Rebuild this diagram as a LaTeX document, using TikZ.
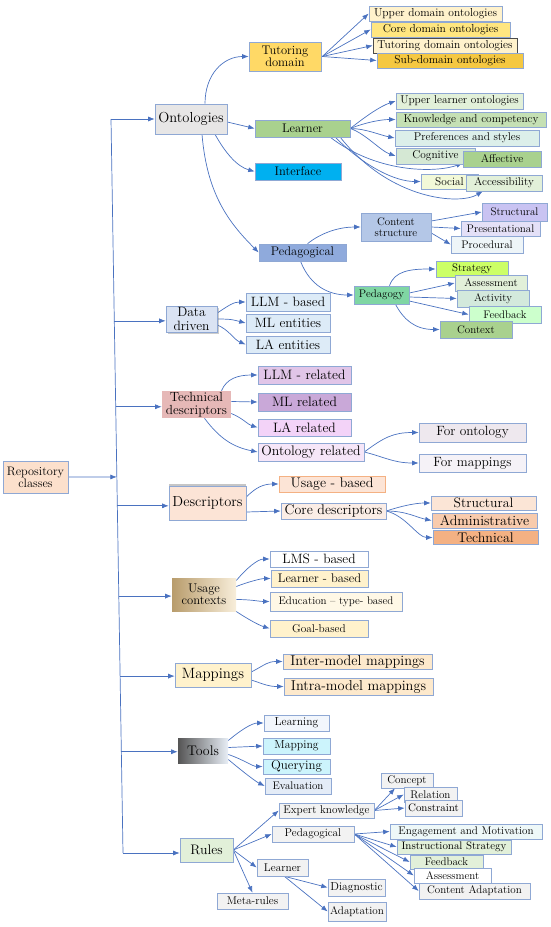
\documentclass[tikz,border=0pt]{standalone}
\usetikzlibrary{arrows.meta,calc,shadows}
\definecolor{arrc}{HTML}{4A72C0}
\definecolor{bordc}{HTML}{8FA8D4}
\definecolor{cTut}{HTML}{FFD966}
\definecolor{cUdo}{HTML}{FFF2CC}
\definecolor{cCdo}{HTML}{FFE680}
\definecolor{cTdo}{HTML}{FFF2CC}
\definecolor{cSdo}{HTML}{F5C842}
\definecolor{cOnt}{HTML}{E7E6E6}
\definecolor{cLrn}{HTML}{A9D18E}
\definecolor{cInt}{HTML}{00B0F0}
\definecolor{cUlo}{HTML}{E2F0D9}
\definecolor{cKac}{HTML}{C5E0B4}
\definecolor{cPas}{HTML}{DCEFEA}
\definecolor{cCog}{HTML}{D5E8D4}
\definecolor{cSoc}{HTML}{F2F9D8}
\definecolor{cPed}{HTML}{8FAADC}
\definecolor{cCst}{HTML}{B4C7E7}
\definecolor{cStr}{HTML}{C9C3F2}
\definecolor{cPre}{HTML}{E4E0F7}
\definecolor{cPrc}{HTML}{EEF5F8}
\definecolor{cPdg}{HTML}{7FD6A3}
\definecolor{cStg}{HTML}{CCFF66}
\definecolor{cAct}{HTML}{D3E9DC}
\definecolor{cFdb}{HTML}{CCFFCC}
\definecolor{cDd}{HTML}{DAE3F3}
\definecolor{cLb}{HTML}{DDEBF7}
\definecolor{cTds}{HTML}{E6B8B7}
\definecolor{cLlr}{HTML}{E1C5E8}
\definecolor{cMlr}{HTML}{C9A8D8}
\definecolor{cLar}{HTML}{F3D3F8}
\definecolor{cOnr}{HTML}{F6E6F8}
\definecolor{cFon}{HTML}{EEE8EE}
\definecolor{cFmp}{HTML}{F5F2F7}
\definecolor{cRepo}{HTML}{FCE0CC}
\definecolor{cPeach}{HTML}{FCE4D6}
\definecolor{cCore}{HTML}{FBEDE6}
\definecolor{cStl}{HTML}{FBE5D6}
\definecolor{cAdm}{HTML}{F8CBAD}
\definecolor{cTec}{HTML}{F4B183}
\definecolor{cUscL}{HTML}{B89C6C}
\definecolor{cUscR}{HTML}{F8EEDA}
\definecolor{cYel}{HTML}{FFF2CC}
\definecolor{cEdu}{HTML}{FFF8E6}
\definecolor{cInm}{HTML}{FDE9CC}
\definecolor{cToolL}{HTML}{555555}
\definecolor{cToolR}{HTML}{E8EEF6}
\definecolor{cLrng}{HTML}{F2F6FC}
\definecolor{cMpg}{HTML}{CCF4FC}
\definecolor{cEvl}{HTML}{E4ECF7}
\definecolor{cGray}{HTML}{F2F2F2}
\definecolor{cEng}{HTML}{EEF8F8}
\definecolor{cUsb}{HTML}{F4B183}
\pgfdeclarelayer{bg}
\pgfsetlayers{bg,main}
\tikzset{
  box/.style={draw=bordc, line width=0.6pt, inner sep=0pt, align=center, text=black},
  fz/.style={font=\fontsize{#1}{#1}\selectfont},
  fzz/.style 2 args={font=\fontsize{#1}{#2}\selectfont},
  arr/.style={draw=arrc, line width=0.7pt, -{Latex[length=6.5pt,width=5pt]}},
  ln/.style={draw=arrc, line width=0.7pt},
}
\begin{document}
\begin{tikzpicture}[x=1pt,y=-1pt]
\useasboundingbox (0,0) rectangle (550,927);
% ---------- Ontologies ----------
\node[box, fill=cOnt, minimum width=72, minimum height=30, fz=14.5] (ont) at (191,119) {Ontologies};
\node[box, fill=cTut, minimum width=72, minimum height=29, fzz={12.5}{12}] (tut) at (285,56.5) {Tutoring\\domain};
\node[box, fill=cUdo, minimum width=133, minimum height=15, fz=11.5] (udo) at (435.5,13.5) {Upper domain ontologies};
\node[box, fill=cCdo, minimum width=139, minimum height=15, fz=11.5] (cdo) at (440.5,29.5) {Core domain ontologies};
\node[box, draw=black!70, fill=cTdo, minimum width=144, minimum height=15, fz=11.5] (tdo) at (445,45.5) {Tutoring domain ontologies};
\node[box, fill=cSdo, minimum width=146, minimum height=15, fz=11.5] (sdo) at (450,60.5) {Sub-domain ontologies};
\node[box, fill=cLrn, minimum width=95, minimum height=17, fz=12.5] (lrn) at (302.5,128.5) {Learner};
\node[box, fill=cInt, minimum width=86, minimum height=17, fz=12.5] (intf) at (298,171.5) {Interface};
\node[box, fill=cUlo, minimum width=127, minimum height=16, fz=11.3] (ulo) at (459.5,101) {Upper learner ontologies};
\node[box, fill=cKac, minimum width=150, minimum height=15, fz=11.3] (kac) at (471,119.5) {Knowledge and competency};
\node[box, fill=cPas, minimum width=144, minimum height=16, fz=11.3] (pas) at (467,138) {Preferences and styles};
\node[box, fill=cCog, minimum width=79, minimum height=16, fz=11.3] (cog) at (435.5,156) {Cognitive};
\node[box, fill=cLrn, minimum width=78, minimum height=16, fz=11.3] (aff) at (502,159) {Affective};
\node[box, fill=cSoc, minimum width=57, minimum height=15, fz=11.3] (soc) at (449.5,181.5) {Social};
\node[box, fill=cUlo, minimum width=76, minimum height=16, fz=11.3] (acc) at (504,183) {Accessibility};
\node[box, fill=cPed, minimum width=87, minimum height=17, fz=12.5] (ped) at (302.5,252.5) {Pedagogical};
\node[box, fill=cCst, minimum width=70, minimum height=28, fzz={11}{11}] (cst) at (396,227) {Content\\structure};
\node[box, fill=cStr, minimum width=65, minimum height=18, fz=11] (str) at (514.5,212) {Structural};
\node[box, fill=cPre, minimum width=79, minimum height=15, fz=11] (pre) at (500.5,228.5) {Presentational};
\node[box, fill=cPrc, minimum width=72, minimum height=17, fz=11] (prc) at (487,244.5) {Procedural};
\node[box, fill=cPdg, minimum width=55, minimum height=18, fz=11] (pdg) at (381.5,295) {Pedagogy};
\node[box, fill=cStg, minimum width=72, minimum height=16, fz=11] (stg) at (472,269) {Strategy};
\node[box, fill=cUlo, minimum width=72, minimum height=16, fz=11] (ass) at (491,283) {Assessment};
\node[box, fill=cAct, minimum width=72, minimum height=17, fz=11] (act) at (493,298.5) {Activity};
\node[box, fill=cFdb, minimum width=72, minimum height=17, fz=11] (fdb) at (505,314.5) {Feedback};
\node[box, fill=cLrn, minimum width=72, minimum height=17, fz=11] (ctx) at (476,329.5) {Context};
% ---------- Data driven ----------
\node[box, fill=cDd, minimum width=51, minimum height=26, fzz={13.5}{13.5}, drop shadow={shadow xshift=2pt, shadow yshift=-2pt, opacity=0.4}] (dd) at (191.5,319) {Data\\driven};
\node[box, fill=cLb, minimum width=84, minimum height=18, fz=13.5] (llmb) at (288,302) {LLM - based};
\node[box, fill=cLb, minimum width=84, minimum height=18, fz=13.5] (mle) at (288,323) {ML entities};
\node[box, fill=cLb, minimum width=84, minimum height=17, fz=13.5] (lae) at (288,344.5) {LA entities};
% ---------- Technical descriptors ----------
\node[box, draw=none, fill=cTds, minimum width=69, minimum height=27, fzz={13.2}{13.2}] (tds) at (196.5,404.5) {Technical\\descriptors};
\node[box, fill=cLlr, minimum width=93, minimum height=18, fz=13.6] (llmr) at (304.5,375) {LLM - related};
\node[box, fill=cMlr, minimum width=93, minimum height=18, fz=13.6] (mlr) at (304.5,402) {ML related};
\node[box, fill=cLar, minimum width=93, minimum height=17, fz=13.6] (lar) at (304.5,427.5) {LA related};
\node[box, fill=cOnr, minimum width=106, minimum height=18, fz=13.8] (ontr) at (311,452) {Ontology related};
\node[box, fill=cFon, minimum width=107, minimum height=19, fz=13.4] (fon) at (472.5,432.5) {For ontology};
\node[box, fill=cFmp, minimum width=107, minimum height=18, fz=13.4] (fmap) at (472.5,463) {For mappings};
% ---------- Repository ----------
\node[box, fill=cRepo, minimum width=65, minimum height=32, fzz={12.3}{12}] (repo) at (35.5,477) {Repository\\classes};
% ---------- Descriptors ----------
\node[box, fill=cPeach, minimum width=77, minimum height=34, fz=14.5, drop shadow={shadow xshift=0pt, shadow yshift=2pt, opacity=0.45}] (desc) at (207.5,503) {Descriptors};
\node[box, draw=cUsb, fill=cPeach, minimum width=106, minimum height=16, fz=14] (usb) at (332,484) {Usage - based};
\node[box, fill=cCore, minimum width=105, minimum height=16, fz=14] (cored) at (333.5,511) {Core descriptors};
\node[box, fill=cStl, minimum width=105, minimum height=14, fz=13.7] (stl2) at (483.5,503) {Structural};
\node[box, fill=cAdm, minimum width=105, minimum height=15, fz=14] (adm) at (484.5,520.5) {Administrative};
\node[box, fill=cTec, minimum width=105, minimum height=14, fz=14] (tec) at (485.5,537.5) {Technical};
% ---------- Usage contexts ----------
\node[box, draw=none, left color=cUscL, right color=cUscR, minimum width=64, minimum height=33, fzz={12.6}{12.2}] (usc) at (204,594.5) {Usage\\contexts};
\node[box, fill=white, minimum width=98, minimum height=16, fz=13.5] (lms) at (319,559) {LMS - based};
\node[box, fill=cYel, minimum width=97, minimum height=17, fz=12.5] (lrb) at (319.5,578.5) {Learner - based};
\node[box, fill=cEdu, minimum width=132, minimum height=19, fz=11] (edu) at (336,601.5) {Education -- type- based};
\node[box, fill=cYel, minimum width=98, minimum height=17, fz=11.3] (gol) at (319,628.5) {Goal-based};
% ---------- Mappings ----------
\node[box, fill=cYel, minimum width=76, minimum height=24, fz=14.9] (map) at (213,675) {Mappings};
\node[box, fill=cInm, minimum width=149, minimum height=15, fz=14.3] (inter) at (357.5,661.5) {Inter-model mappings};
\node[box, fill=cInm, minimum width=149, minimum height=17, fz=14.3] (intra) at (358.5,686.5) {Intra-model mappings};
% ---------- Tools ----------
\node[box, draw=none, left color=cToolL, right color=cToolR, minimum width=50, minimum height=25, fz=13.9] (tools) at (203,750.5) {Tools};
\node[box, fill=cLrng, minimum width=65, minimum height=16, fz=11.6] (lrng) at (296.5,723) {Learning};
\node[box, fill=cMpg, minimum width=67, minimum height=16, fz=11.7] (mpg) at (296.5,746) {Mapping};
\node[box, fill=cMpg, minimum width=67, minimum height=15, fz=12.9] (qry) at (296.5,766.5) {Querying};
\node[box, fill=cEvl, minimum width=66, minimum height=16, fz=11] (evl) at (298,786) {Evaluation};
% ---------- Rules ----------
\node[box, fill=cUlo, minimum width=53, minimum height=24, fz=13.8] (rules) at (206.5,850) {Rules};
\node[box, fill=cGray, minimum width=95, minimum height=15, fz=11.2] (exk) at (326.5,810.5) {Expert knowledge};
\node[box, fill=cGray, minimum width=82, minimum height=16, fz=11.2] (ped2) at (313,834) {Pedagogical};
\node[box, fill=cGray, minimum width=51, minimum height=17, fz=11.3] (lrn2) at (282.5,867.5) {Learner};
\node[box, fill=cGray, minimum width=71, minimum height=16, fz=11.3] (meta) at (252.5,901) {Meta-rules};
\node[box, fill=cGray, minimum width=52, minimum height=15, fz=11.1] (cpt) at (407,780.5) {Concept};
\node[box, fill=cGray, minimum width=53, minimum height=15, fz=11.1] (rel) at (430.5,794.5) {Relation};
\node[box, fill=cGray, minimum width=57, minimum height=16, fz=10.9] (cns) at (433.5,808) {Constraint};
\node[box, fill=cEng, minimum width=152, minimum height=15, fz=11.1] (eng) at (466,831.5) {Engagement and Motivation};
\node[box, fill=cUlo, minimum width=114, minimum height=14, fz=10.9] (ins) at (454,847) {Instructional Strategy};
\node[box, fill=cUlo, minimum width=73, minimum height=14, fz=11] (fdb2) at (446.5,862) {Feedback};
\node[box, fill=white, minimum width=77, minimum height=15, fz=11] (ass2) at (452.5,875.5) {Assessment};
\node[box, fill=cGray, minimum width=111, minimum height=16, fz=11] (cad) at (474.5,891) {Content Adaptation};
\node[box, fill=cGray, minimum width=57, minimum height=17, fz=11.6] (dia) at (356.5,887.5) {Diagnostic};
\node[box, fill=cGray, minimum width=58, minimum height=19, fz=11.1] (adp) at (357,911.5) {Adaptation};
% ---------- trunk coordinates ----------
\coordinate (tA) at (111,119);
\coordinate (tB) at (123,853);
\coordinate (tDd) at ($(tA)!0.275!(tB)$);
\coordinate (tTd) at ($(tA)!0.392!(tB)$);
\coordinate (tRp) at ($(tA)!0.4877!(tB)$);
\coordinate (tDe) at ($(tA)!0.527!(tB)$);
\coordinate (tUc) at ($(tA)!0.65!(tB)$);
\coordinate (tMp) at ($(tA)!0.759!(tB)$);
\coordinate (tTo) at ($(tA)!0.862!(tB)$);
\begin{pgfonlayer}{bg}
% trunk
\draw[ln] (tA) -- (tB);
\draw[arr] (tA) -- (tA -| ont.west);
\draw[arr] (tDd) -- (tDd -| dd.west);
\draw[arr] (tTd) -- (tTd -| tds.west);
\draw[arr] (repo.east) -- (tRp);
\draw[arr] (tDe) -- (tDe -| desc.west);
\draw[arr] (tUc) -- (tUc -| usc.west);
\draw[arr] (tMp) -- (tMp -| map.west);
\draw[arr] (tTo) -- (tTo -| tools.west);
\draw[arr] (tB) -- (tB -| rules.west);
% ontologies
\draw[arr] ($(ont.north)+(14,0)$) .. controls +(0,-30) and +(-25,0) .. (tut.west);
\draw[arr] ($(ont.east)+(0,3)$) -- (lrn.west);
\draw[arr] ($(ont.south)+(24,0)$) .. controls +(10,18) and +(-18,-5) .. (intf.west);
\draw[arr] ($(ont.south)+(11,0)$) .. controls +(5,60) and +(-30,-30) .. (ped.west);
% tutoring domain
\foreach \t in {udo,cdo,tdo,sdo} \draw[arr] ($(tut.east)+(1,0)$) -- (\t.west);
% learner
\draw[arr] (lrn.east) .. controls +(15,-12) and +(-15,5) .. (ulo.west);
\draw[arr] (lrn.east) .. controls +(15,-6) and +(-15,0) .. (kac.west);
\draw[arr] (lrn.east) .. controls +(15,0) and +(-15,-3) .. (pas.west);
\draw[arr] (lrn.east) .. controls +(15,5) and +(-15,-5) .. (cog.west);
\draw[arr] ($(lrn.south east)+(-20,0)$) .. controls +(50,38) and +(-23,9) .. ($(aff.west)+(0,4)$);
\draw[arr] ($(lrn.south east)+(-15,0)$) .. controls +(30,30) and +(-25,0) .. (soc.west);
\draw[arr] ($(lrn.south east)+(-10,0)$) .. controls +(50,63) and +(-23,14) .. ($(acc.south west)+(17,0)$);
% pedagogical
\draw[arr] ($(ped.north)+(5,0)$) .. controls +(15,-12) and +(-20,0) .. (cst.west);
\draw[arr] ($(ped.south)+(-2,0)$) .. controls +(10,25) and +(-25,0) .. (pdg.west);
\draw[arr] ($(cst.east)+(0,-6)$) -- (str.west);
\draw[arr] (cst.east) -- (pre.west);
\draw[arr] ($(cst.east)+(0,6)$) -- (prc.west);
\draw[arr] ($(pdg.north)+(8,0)$) .. controls +(5,-15) and +(-25,0) .. (stg.west);
\draw[arr] ($(pdg.east)+(0,-2)$) -- (ass.west);
\draw[arr] ($(pdg.east)+(0,2)$) -- (act.west);
\draw[arr] ($(pdg.east)+(0,6)$) -- (fdb.west);
\draw[arr] ($(pdg.south)+(14,0)$) .. controls +(8,15) and +(-25,0) .. (ctx.west);
% data driven
\draw[arr] ($(dd.east)+(0,-6)$) .. controls +(12,-8) and +(-12,0) .. (llmb.west);
\draw[arr] (dd.east) .. controls +(15,0) and +(-12,-3) .. (mle.west);
\draw[arr] ($(dd.east)+(0,6)$) .. controls +(12,5) and +(-12,-5) .. (lae.west);
% technical descriptors
\draw[arr] ($(tds.north)+(25,0)$) .. controls +(5,-12) and +(-20,0) .. (llmr.west);
\draw[arr] ($(tds.east)+(0,-3)$) -- (mlr.west);
\draw[arr] ($(tds.east)+(0,9)$) .. controls +(12,5) and +(-10,-3) .. (lar.west);
\draw[arr] ($(tds.south)+(8,0)$) .. controls +(15,20) and +(-25,-5) .. (ontr.west);
\draw[arr] (ontr.east) .. controls +(20,-15) and +(-25,0) .. (fon.west);
\draw[arr] (ontr.east) .. controls +(20,5) and +(-25,0) .. (fmap.west);
% descriptors
\draw[arr] ($(desc.east)+(0,-6)$) .. controls +(10,-10) and +(-15,0) .. (usb.west);
\draw[arr] ($(desc.east)+(0,9)$) -- (cored.west);
\draw[arr] (cored.east) .. controls +(15,-5) and +(-15,0) .. (stl2.west);
\draw[arr] (cored.east) .. controls +(20,0) and +(-15,-3) .. (adm.west);
\draw[arr] (cored.east) .. controls +(20,5) and +(-15,0) .. (tec.west);
% usage contexts
\draw[arr] ($(usc.east)+(0,-14)$) .. controls +(10,-12) and +(-12,0) .. (lms.west);
\draw[arr] ($(usc.east)+(0,-8)$) .. controls +(10,-4) and +(-10,0) .. (lrb.west);
\draw[arr] ($(usc.east)+(0,5)$) .. controls +(15,0) and +(-10,0) .. (edu.west);
\draw[arr] ($(usc.east)+(0,17)$) .. controls +(12,8) and +(-10,-3) .. (gol.west);
% mappings
\draw[arr] ($(map.east)+(0,-3)$) .. controls +(15,-8) and +(-15,0) .. (inter.west);
\draw[arr] ($(map.east)+(0,5)$) .. controls +(15,5) and +(-15,0) .. (intra.west);
% tools
\draw[arr] ($(tools.east)+(0,-10)$) .. controls +(12,-10) and +(-12,0) .. (lrng.west);
\draw[arr] ($(tools.east)+(0,-3)$) -- (mpg.west);
\draw[arr] ($(tools.east)+(0,4)$) .. controls +(15,5) and +(-10,0) .. (qry.west);
\draw[arr] ($(tools.east)+(0,9)$) .. controls +(12,10) and +(-10,-5) .. (evl.west);
% rules
\draw[arr] (rules.east) -- (exk.west);
\draw[arr] (rules.east) -- (ped2.west);
\draw[arr] (rules.east) -- (lrn2.west);
\draw[arr] (rules.east) -- (meta.north);
\draw[arr] (exk.east) -- ($(cpt.south)+(-12,0)$);
\draw[arr] (exk.east) -- (rel.west);
\draw[arr] (exk.east) -- (cns.west);
\foreach \t in {eng,ins,fdb2,ass2,cad} \draw[arr] (ped2.east) -- (\t.west);
\draw[arr] ($(lrn2.south east)+(-24,0)$) -- (dia.west);
\draw[arr] ($(lrn2.south east)+(-24,0)$) -- (adp.west);
\end{pgfonlayer}
\end{tikzpicture}
\end{document}
